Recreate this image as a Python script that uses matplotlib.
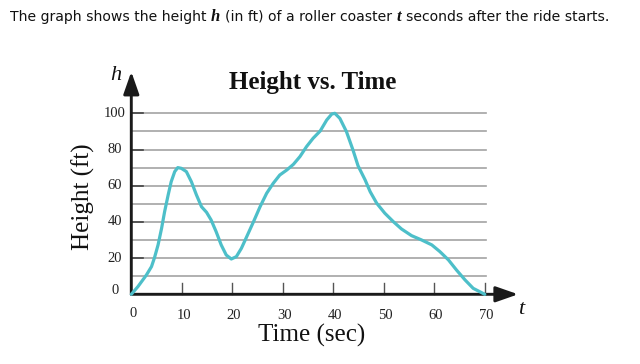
import matplotlib
matplotlib.use("Agg")
import matplotlib.pyplot as plt

# ---- data ----
t_vals = [0, 1.3, 3.0, 4.0, 4.6, 5.3, 6.0, 6.6, 7.3, 7.9, 8.6, 9.2, 9.9, 10.9, 11.9, 12.9, 13.9, 14.9,
          15.8, 16.8, 17.8, 18.8, 19.8, 20.8, 21.8, 22.8, 24.2, 25.5, 26.8, 28.1, 29.4, 30.8, 32.1,
          33.4, 34.7, 36.0, 37.4, 38.7, 39.7, 40.3, 41.3, 42.6, 43.9, 44.9, 46.3, 47.3, 48.6, 50.2,
          51.9, 53.5, 55.5, 57.5, 59.5, 61.1, 62.8, 64.4, 66.1, 67.7, 70]
h_vals = [0, 4.2, 10.7, 15.3, 20.3, 27.3, 36.5, 45.7, 54.9, 62.2, 67.8, 70, 69.6, 67.8, 62.2, 54.9,
          48.4, 45.3, 41.1, 34.6, 27.3, 21.7, 19.5, 20.8, 25.4, 31.5, 40.1, 48.4, 55.8, 61.3, 65.9,
          68.7, 71.8, 76.1, 81.6, 86.2, 90.2, 96.3, 99.6, 100, 97.2, 89.9, 79.7, 71, 63.2, 56.7,
          50.3, 44.8, 40.1, 36.1, 32.4, 30.0, 27.3, 23.6, 19.0, 13.4, 7.9, 3.3, 0]
x_ticks = [0, 10, 20, 30, 40, 50, 60, 70]
x_tick_labels = ["0", "10", "20", "30", "40", "50", "60", "70"]
y_ticks = [0, 20, 40, 60, 80, 100]
y_tick_labels = ["0", "20", "40", "60", "80", "100"]
grid_levels = [10, 20, 30, 40, 50, 60, 70, 80, 90, 100]

W, H = 640, 364
fig = plt.figure(figsize=(6.4, 3.64), dpi=100)
fig.patch.set_facecolor("white")

# axes placed in pixels
x0, y0 = 131.3, 294.3
pxu, pyu = 5.05, 1.81
ax = fig.add_axes([x0 / W, (H - y0) / H, 70 * pxu / W, 100 * pyu / H])
ax.set_xlim(0, 70)
ax.set_ylim(0, 100)
ax.axis("off")

serif = ["Liberation Serif", "DejaVu Serif"]

# grid lines
for g in grid_levels:
    ax.plot([0, 70.3], [g, g], color="#a3a3a3", lw=1.2, clip_on=False, zorder=1)
# y ticks (darker short segments)
for yt in y_ticks[1:]:
    ax.plot([0, 2.4], [yt, yt], color="#444444", lw=1.2, clip_on=False, zorder=2)
# x ticks
for xt in x_ticks[1:]:
    ax.plot([xt, xt], [0, 6.5], color="#555555", lw=1.0, clip_on=False, zorder=2)

# axes with arrows
arrow_style = "-|>,head_length=0.8,head_width=0.28"
ax.annotate("", xy=(76.6, 0), xytext=(0, 0), xycoords="data", annotation_clip=False,
            arrowprops=dict(arrowstyle=arrow_style, lw=2.1, color="#1a1a1a",
                            mutation_scale=17, shrinkA=0, shrinkB=0), zorder=3)
ax.annotate("", xy=(0, 123), xytext=(0, 0), xycoords="data", annotation_clip=False,
            arrowprops=dict(arrowstyle=arrow_style, lw=2.1, color="#1a1a1a",
                            mutation_scale=17, shrinkA=0, shrinkB=0), zorder=3)

# curve
ax.plot(t_vals, h_vals, color="#4dbfc9", lw=2.3, solid_joinstyle="round",
        solid_capstyle="round", clip_on=False, zorder=4)

# tick labels
for xt, lab in zip(x_ticks, x_tick_labels):
    yoff = -10.6 if xt == 0 else -11.8
    ax.text(xt + 0.35, yoff, lab, ha="center", va="center", fontsize=10.5,
            family=serif, color="#222222")
for yt, lab in zip(y_ticks, y_tick_labels):
    yy = yt + 2.0 if yt == 0 else yt
    ax.text(-3.3, yy, lab, ha="center", va="center", fontsize=10.5,
            family=serif, color="#222222")

# axis labels
fig.text(83 / W, 1 - 196.5 / H, "Height (ft)", rotation=90, ha="center", va="center",
         fontsize=18, family=serif, color="#111111")
fig.text(312 / W, 1 - 335 / H, "Time (sec)", ha="center", va="center",
         fontsize=18, family=serif, color="#111111")
fig.text(116 / W, 1 - 75 / H, "h", ha="center", va="center", fontsize=16,
         family=serif, style="italic", color="#111111")
fig.text(521 / W, 1 - 309 / H, "t", ha="center", va="center", fontsize=16,
         family=serif, style="italic", color="#111111")

# title
fig.text(313 / W, 1 - 83 / H, "Height vs. Time", ha="center", va="center",
         fontsize=18, family=serif, weight="bold", color="#111111")

# top sentence, composed of pieces
renderer = fig.canvas.get_renderer()
pieces = [
    ("The graph shows the height", "sans"),
    ("h", "ital"),
    ("(in ft) of a roller coaster", "sans"),
    ("t", "ital"),
    ("seconds after the ride starts.", "sans"),
]
xpos = 10.0
base = 343.0  # baseline in pixels from bottom
gap = 4.6
for i, (s, kind) in enumerate(pieces):
    if kind == "sans":
        txt = fig.text(xpos / W, base / H, s, ha="left", va="baseline", fontsize=10.1,
                       family=["DejaVu Sans"], color="#111111")
    else:
        txt = fig.text(xpos / W, base / H, s, ha="left", va="baseline", fontsize=12,
                       family=serif, style="italic", weight="bold", color="#111111")
    bb = txt.get_window_extent(renderer)
    xpos = bb.x1 + gap

fig.savefig("out.png", dpi=100, facecolor="white")
